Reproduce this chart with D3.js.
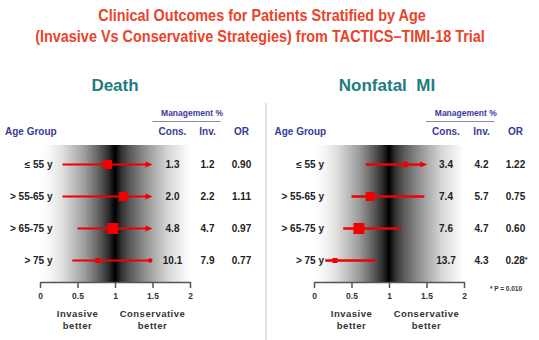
<!DOCTYPE html>
<html>
<head>
<meta charset="utf-8">
<script src="https://cdn.jsdelivr.net/npm/d3@7/dist/d3.min.js"></script>
<style>
  body { margin: 0; background: #fff; }
  svg { display: block; font-family: "Liberation Sans", Arial, sans-serif; }
</style>
</head>
<body>
<script>
// age groups shared by both panels
const ageGroups = ["\u2264 55 y", "> 55-65 y", "> 65-75 y", "> 75 y"];

// death: event rates (%) and odds ratios
const deathCons = ["1.3", "2.0", "4.8", "10.1"];
const deathInv = ["1.2", "2.2", "4.7", "7.9"];
const deathOR = [0.90, 1.11, 0.97, 0.77];
const deathLow = [0.30, 0.30, 0.50, 0.43];
const deathHigh = [1.50, 1.50, 1.50, 1.47];
const deathArrow = [true, true, true, false];

// nonfatal MI: event rates (%) and odds ratios
const miCons = ["3.4", "7.4", "7.6", "13.7"];
const miInv = ["4.2", "5.7", "4.7", "4.3"];
const miOR = [1.22, 0.75, 0.60, 0.28];
const miLow = [0.69, 0.50, 0.39, 0.15];
const miHigh = [1.51, 1.47, 1.16, 0.82];
const miArrow = [true, false, false, false];
const miStar = [false, false, false, true];

const axisTicks = [0, 0.5, 1, 1.5, 2];

const width = 539, height = 340;
const red = "#f00000";
const navy = "#3a3a9c";
const teal = "#1d7d7f";

const svg = d3.select("body").append("svg")
    .attr("width", width)
    .attr("height", height);

const defs = svg.append("defs");

// dark band at OR = 1 fading out to white on both sides
const grad = defs.append("linearGradient")
    .attr("id", "band")
    .attr("x1", "0%").attr("x2", "100%")
    .attr("y1", "0%").attr("y2", "0%");
[[0, "#ffffff"], [0.06, "#f8f8f8"], [0.15, "#e0e0e0"], [0.3, "#9c9c9c"],
 [0.4, "#5a5a5a"], [0.46, "#2a2a2a"], [0.49, "#0a0a0a"], [0.5, "#000"],
 [0.51, "#0a0a0a"], [0.54, "#303030"], [0.6, "#5a5a5a"], [0.7, "#909090"],
 [0.85, "#d6d6d6"], [0.95, "#f2f2f2"], [1, "#ffffff"]]
    .forEach(([o, c]) => grad.append("stop").attr("offset", o).attr("stop-color", c));

// title, squeezed horizontally to a narrow look
const titleLines = [
    ["Clinical Outcomes for Patients Stratified by Age", 262, 21],
    ["(Invasive Vs Conservative Strategies) from TACTICS\u2013TIMI-18 Trial", 260, 42]
];
titleLines.forEach(([t, tx, ty]) => {
    svg.append("text")
        .attr("transform", `translate(${tx},${ty}) scale(0.875,1)`)
        .attr("text-anchor", "middle")
        .attr("font-weight", "bold")
        .attr("font-size", 16.5)
        .attr("fill", "#e8442a")
        .text(t);
});

// thin divider between the two panels
svg.append("line")
    .attr("x1", 266).attr("x2", 266)
    .attr("y1", 103).attr("y2", height)
    .attr("stroke", "#c4c4c4")
    .attr("stroke-width", 1);

const y = d3.scalePoint().domain(ageGroups).range([164.5, 260.5]);

function drawPanel(opt) {
    const g = svg.append("g");
    const x = d3.scaleLinear().domain([0, 2]).range(opt.range);
    const rows = ageGroups.map((a, i) => ({
        age: a, cons: opt.cons[i], inv: opt.inv[i], or: opt.or[i],
        lo: opt.low[i], hi: opt.high[i], arrow: opt.arrow[i],
        star: opt.star ? opt.star[i] : false, box: opt.box[i], shape: opt.shape[i]
    }));

    // panel heading
    g.append("text")
        .attr("x", opt.headX).attr("y", 91)
        .attr("text-anchor", "middle")
        .attr("font-size", 17).attr("font-weight", "bold")
        .attr("fill", teal)
        .style("white-space", "pre")
        .text(opt.heading);

    // column headers
    const head = g.append("g").attr("font-weight", "bold").attr("fill", navy);
    head.append("text").attr("x", opt.ageX).attr("y", 135)
        .attr("font-size", 10).text("Age Group");
    head.append("text").attr("x", (opt.cols[0] + opt.cols[1]) / 2 + 2).attr("y", 116)
        .attr("text-anchor", "middle").attr("font-size", 8.5).text("Management %");
    g.append("line")
        .attr("x1", opt.cols[0] - 20).attr("x2", opt.cols[1] + 13)
        .attr("y1", 121.5).attr("y2", 121.5)
        .attr("stroke", "#8a8aa8").attr("stroke-width", 1);
    ["Cons.", "Inv.", "OR"].forEach((t, i) => {
        head.append("text").attr("x", opt.cols[i]).attr("y", 135)
            .attr("text-anchor", "middle").attr("font-size", 10).text(t);
    });

    // shaded background behind the intervals
    g.append("rect")
        .attr("x", x(0)).attr("y", 145)
        .attr("width", x(2) - x(0)).attr("height", 282 - 145)
        .attr("fill", "url(#band)");

    // axis
    const axis = g.append("g")
        .attr("transform", "translate(0,282)")
        .call(d3.axisBottom(x).tickValues(axisTicks).tickFormat(d => d)
            .tickSize(6).tickSizeOuter(0).tickPadding(5));
    axis.select(".domain").attr("stroke", "#555").attr("stroke-width", 1.5);
    axis.selectAll(".tick line").attr("stroke", "#555").attr("stroke-width", 1.5);
    axis.selectAll(".tick text")
        .attr("font-size", 8.5).attr("font-weight", "bold")
        .attr("font-family", "'Liberation Sans', Arial, sans-serif")
        .attr("fill", "#333");

    // favour labels under the axis
    const fav = g.append("g").attr("font-size", 9.5).attr("font-weight", "bold")
        .attr("fill", "#333").attr("text-anchor", "middle").attr("letter-spacing", 0.5);
    [["Invasive", "better", 0.5], ["Conservative", "better", 1.5]].forEach(([a, b, v]) => {
        fav.append("text").attr("x", x(v)).attr("y", 316.5).text(a);
        fav.append("text").attr("x", x(v)).attr("y", 328.5).text(b);
    });

    // row labels
    g.selectAll(".age").data(rows).join("text")
        .attr("class", "age")
        .attr("x", opt.labelX).attr("y", d => y(d.age) + 3.5)
        .attr("text-anchor", "end")
        .attr("font-size", 10).attr("font-weight", "bold").attr("fill", "#222")
        .text(d => d.age);

    // confidence intervals
    g.selectAll(".ci").data(rows).join("line")
        .attr("class", "ci")
        .attr("x1", d => x(d.lo)).attr("x2", d => x(d.hi) - (d.arrow ? 4 : 0))
        .attr("y1", d => y(d.age)).attr("y2", d => y(d.age))
        .attr("stroke", red).attr("stroke-width", opt.lineW);

    // arrow tips for intervals that run past the plot
    g.selectAll(".tip").data(rows.filter(d => d.arrow)).join("path")
        .attr("class", "tip")
        .attr("d", d => {
            const tx = x(d.hi), ty = y(d.age);
            return `M${tx},${ty}L${tx - 7},${ty - 3}L${tx - 7},${ty + 3}Z`;
        })
        .attr("fill", red);
    g.selectAll(".end").data(rows.filter(d => !d.arrow && opt.dotEnd)).join("circle")
        .attr("class", "end")
        .attr("cx", d => x(d.hi)).attr("cy", d => y(d.age))
        .attr("r", 2.2).attr("fill", red);

    // point estimates
    g.selectAll(".box").data(rows.filter(d => d.shape === "box")).join("rect")
        .attr("class", "box")
        .attr("x", d => x(d.or) - d.box / 2).attr("y", d => y(d.age) - d.box / 2)
        .attr("width", d => d.box).attr("height", d => d.box)
        .attr("fill", red);
    g.selectAll(".dot").data(rows.filter(d => d.shape === "dot")).join("circle")
        .attr("class", "dot")
        .attr("cx", d => x(d.or)).attr("cy", d => y(d.age))
        .attr("r", d => d.box / 2)
        .attr("fill", red);

    // value columns
    const vals = g.append("g").attr("font-size", 10).attr("font-weight", "bold")
        .attr("fill", "#222").attr("text-anchor", "middle");
    rows.forEach(d => {
        const ty = y(d.age) + 3.5;
        vals.append("text").attr("x", opt.cols[0]).attr("y", ty).text(d.cons);
        vals.append("text").attr("x", opt.cols[1]).attr("y", ty).text(d.inv);
        const t = vals.append("text").attr("x", opt.cols[2] + (d.star ? 1 : 0)).attr("y", ty)
            .text(d3.format(".2f")(d.or));
        if (d.star) t.append("tspan").attr("font-size", 7).attr("dy", -2).text("*");
    });
    return g;
}

drawPanel({
    heading: "Death", headX: 115,
    range: [40, 190], ageX: 5, labelX: 52.5,
    cols: [172.5, 207.5, 241.5],
    cons: deathCons, inv: deathInv, or: deathOR,
    low: deathLow, high: deathHigh, arrow: deathArrow,
    box: [9, 9, 11, 5], shape: ["box", "box", "box", "box"],
    lineW: 2, dotEnd: true
});

const mi = drawPanel({
    heading: "Nonfatal  MI", headX: 387,
    range: [314, 464], ageX: 274.5, labelX: 324,
    cols: [446, 481.5, 515.5],
    cons: miCons, inv: miInv, or: miOR,
    low: miLow, high: miHigh, arrow: miArrow, star: miStar,
    box: [6, 9, 11, 5], shape: ["dot", "box", "box", "box"],
    lineW: 2.6, dotEnd: false
});

// footnote for the significant result
mi.append("text")
    .attr("x", 506).attr("y", 290.5)
    .attr("text-anchor", "middle")
    .attr("font-size", 6.5).attr("font-weight", "bold")
    .attr("fill", "#333")
    .text("* P = 0.010");
</script>
</body>
</html>
